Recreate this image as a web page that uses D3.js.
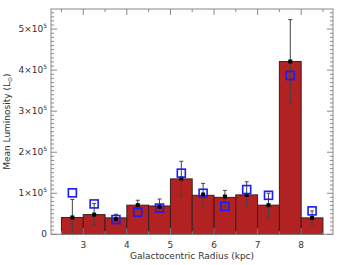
<!DOCTYPE html>
<html>
<head>
<meta charset="utf-8">
<script src="https://cdn.jsdelivr.net/npm/d3@7"></script>
<style>
  body { margin: 0; background: #fff; }
  text { font-family: "DejaVu Sans", sans-serif; fill: #333; }
</style>
</head>
<body>
<svg id="chart" width="340" height="265"></svg>
<script>
// bins of 0.5 kpc, values in units of 1e5 Lsun
const binLeft  = [2.5, 3.0, 3.5, 4.0, 4.5, 5.0, 5.5, 6.0, 6.5, 7.0, 7.5, 8.0];
const barValue = [0.41, 0.48, 0.40, 0.71, 0.69, 1.35, 0.95, 0.90, 0.96, 0.71, 4.21, 0.40];
const meanVal  = [0.41, 0.48, 0.37, 0.71, 0.67, 1.36, 0.97, 0.92, 0.96, 0.71, 4.21, 0.40];
const errHigh  = [0.85, 0.75, 0.49, 0.83, 0.86, 1.78, 1.24, 1.07, 1.28, 1.00, 5.23, 0.57];
const errLow   = [0.00, 0.23, 0.32, 0.59, 0.54, 0.93, 0.69, 0.66, 0.65, 0.40, 3.19, 0.22];
const modelVal = [1.01, 0.74, 0.36, 0.54, 0.64, 1.49, 1.00, 0.68, 1.09, 0.95, 3.87, 0.57];
const xTicks = [3, 4, 5, 6, 7, 8];
const yTicks = [0, 1, 2, 3, 4, 5];

const binW = 0.5;
const svg = d3.select("#chart");
const pL = 51, pR = 333, pT = 9, pB = 234.3;

const x = d3.scaleLinear().domain([2.26, 8.73]).range([pL, pR]);
const y = d3.scaleLinear().domain([0, 5.49]).range([pB, pT]);

const data = binLeft.map((b, i) => ({
  b: b, c: b + binW / 2, v: barValue[i], m: meanVal[i],
  hi: errHigh[i], lo: errLow[i], mod: modelVal[i]
}));

// bars
svg.append("g").selectAll("rect")
  .data(data).enter().append("rect")
  .attr("x", d => x(d.b))
  .attr("width", d => x(d.b + binW) - x(d.b))
  .attr("y", d => y(d.v))
  .attr("height", d => y(0) - y(d.v))
  .attr("fill", "#b22222")
  .attr("stroke", "#3a2020")
  .attr("stroke-width", 1);

// error bars
const eb = svg.append("g").attr("stroke", "#444").attr("stroke-width", 1);
eb.selectAll("line.v").data(data).enter().append("line")
  .attr("x1", d => x(d.c)).attr("x2", d => x(d.c))
  .attr("y1", d => y(d.lo)).attr("y2", d => y(d.hi));
eb.selectAll("line.t").data(data).enter().append("line")
  .attr("x1", d => x(d.c) - 2).attr("x2", d => x(d.c) + 2)
  .attr("y1", d => y(d.hi)).attr("y2", d => y(d.hi));
eb.selectAll("line.b").data(data.filter(d => d.lo > 0)).enter().append("line")
  .attr("x1", d => x(d.c) - 2).attr("x2", d => x(d.c) + 2)
  .attr("y1", d => y(d.lo)).attr("y2", d => y(d.lo));

// mean dots
svg.append("g").selectAll("rect")
  .data(data).enter().append("rect")
  .attr("x", d => x(d.c) - 2).attr("y", d => y(d.m) - 2)
  .attr("width", 4).attr("height", 4)
  .attr("fill", "#000");

// model squares
svg.append("g").selectAll("rect")
  .data(data).enter().append("rect")
  .attr("x", d => x(d.c) - 4).attr("y", d => y(d.mod) - 4)
  .attr("width", 8).attr("height", 8)
  .attr("fill", "none")
  .attr("stroke", "#1a1aff")
  .attr("stroke-width", 1.6);

// frame
svg.append("rect")
  .attr("x", pL).attr("y", pT)
  .attr("width", pR - pL).attr("height", pB - pT)
  .attr("fill", "none").attr("stroke", "#888").attr("stroke-width", 1);

// ticks
const tickG = svg.append("g").attr("stroke", "#888").attr("stroke-width", 1);
const xMinor = d3.range(2.5, 8.75, 0.5);
xMinor.forEach(t => {
  const major = Number.isInteger(t);
  const len = major ? 6 : 3;
  tickG.append("line").attr("x1", x(t)).attr("x2", x(t)).attr("y1", pB).attr("y2", pB - len);
  tickG.append("line").attr("x1", x(t)).attr("x2", x(t)).attr("y1", pT).attr("y2", pT + len);
});
const yMinor = d3.range(0, 5.5, 0.1);
yMinor.forEach(t => {
  const major = Math.abs(t - Math.round(t)) < 1e-6;
  const len = major ? 6 : 3;
  tickG.append("line").attr("y1", y(t)).attr("y2", y(t)).attr("x1", pL).attr("x2", pL + len);
  tickG.append("line").attr("y1", y(t)).attr("y2", y(t)).attr("x1", pR).attr("x2", pR - len);
});

// tick labels
svg.append("g").selectAll("text")
  .data(xTicks).enter().append("text")
  .attr("x", d => x(d)).attr("y", 248)
  .attr("text-anchor", "middle")
  .attr("font-size", 9)
  .text(d => d);

const yl = svg.append("g").selectAll("text")
  .data(yTicks).enter().append("text")
  .attr("x", 47).attr("y", d => y(d) + 3)
  .attr("text-anchor", "end")
  .attr("font-size", 9);
yl.each(function(d) {
  const t = d3.select(this);
  if (d === 0) { t.text("0"); return; }
  t.append("tspan").text(d + "×10");
  t.append("tspan").attr("font-size", 6).attr("dy", -4).text("5");
});

// axis titles
svg.append("text")
  .attr("x", (pL + pR) / 2).attr("y", 259)
  .attr("text-anchor", "middle").attr("font-size", 9)
  .text("Galactocentric Radius (kpc)");

const yt = svg.append("text")
  .attr("transform", "translate(10," + ((pT + pB) / 2) + ") rotate(-90)")
  .attr("text-anchor", "middle").attr("font-size", 9);
yt.append("tspan").text("Mean Luminosity (L");
yt.append("tspan").attr("font-size", 6).attr("dy", 2).text("⊙");
yt.append("tspan").attr("dy", -2).text(")");
</script>
</body>
</html>
